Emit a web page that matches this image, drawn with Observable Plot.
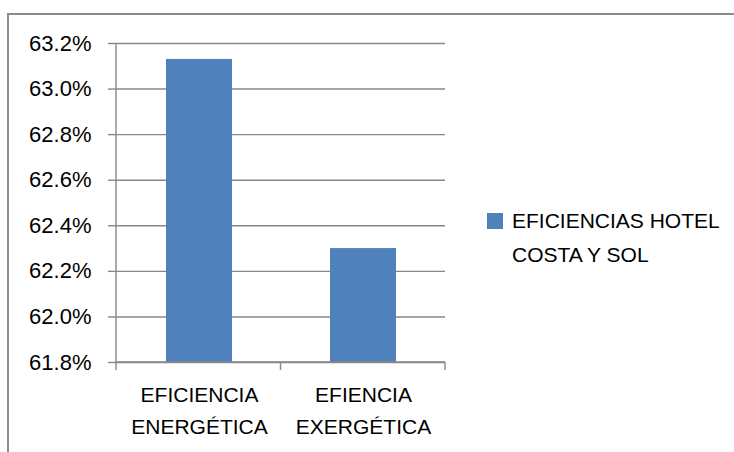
<!DOCTYPE html>
<html><head><meta charset="utf-8">
<script src="https://cdn.jsdelivr.net/npm/d3@7"></script>
<script src="https://cdn.jsdelivr.net/npm/@observablehq/plot@0.6"></script>
<style>
body{margin:0;background:#fff;font-family:"Liberation Sans",Arial,sans-serif;}
#wrap{position:relative;width:734px;height:452px;overflow:hidden;}
#border{position:absolute;left:7px;top:13px;width:760px;height:480px;border-left:2px solid #8c8c8c;border-top:2px solid #8c8c8c;}
#chart{position:absolute;left:0;top:0;}
#swatch{position:absolute;left:487px;top:213px;width:16px;height:16px;background:#4F81BD;}
#legend{position:absolute;left:512px;top:204px;font-size:21px;line-height:34px;color:#000;white-space:nowrap;}
</style>
</head><body>
<div id="wrap"><div id="border"></div><div id="chart"></div><div id="swatch"></div><div id="legend"></div></div>
<script>
const categories = ["EFICIENCIA\nENERGÉTICA", "EFIENCIA\nEXERGÉTICA"];
const values = [0.6313, 0.6230];
const yTicks = [0.618, 0.620, 0.622, 0.624, 0.626, 0.628, 0.630, 0.632];
const yDomain = [0.618, 0.632];
const seriesName = ["EFICIENCIAS HOTEL", "COSTA Y SOL"];

const BLUE = "#4F81BD", GRID = "#878787";
const data = categories.map((c, i) => ({cat: c, value: values[i]}));

function axisLines(index, scales, vals, dims) {
  const g = d3.create("svg:g").attr("stroke", GRID).attr("stroke-width", 1.4).attr("fill", "none");
  const y0 = scales.y(yDomain[0]), y1 = scales.y(yDomain[1]);
  const L = dims.marginLeft, R = dims.width - dims.marginRight;
  g.append("line").attr("x1", L).attr("x2", L).attr("y1", y1).attr("y2", y0);
  g.append("line").attr("x1", L).attr("x2", R).attr("y1", y0).attr("y2", y0);
  const n = categories.length;
  for (let k = 0; k <= n; k++) {
    const xx = L + (R - L) * k / n;
    g.append("line").attr("x1", xx).attr("x2", xx).attr("y1", y0).attr("y2", y0 + 8);
  }
  return g.node();
}

const chart = Plot.plot({
  width: 734, height: 452,
  marginLeft: 116, marginRight: 289, marginTop: 43, marginBottom: 90,
  style: {fontFamily: '"Liberation Sans", Arial, sans-serif', color: "#000", background: "transparent"},
  x: {domain: categories, paddingInner: 0.6, paddingOuter: 0.3},
  y: {domain: yDomain},
  marks: [
    Plot.gridY(yTicks, {stroke: GRID, strokeOpacity: 1, strokeWidth: 1.4}),
    Plot.barY(data, {x: "cat", y1: yDomain[0], y2: "value", fill: BLUE}),
    axisLines,
    Plot.axisY(yTicks, {tickSize: 8, tickPadding: 17, tickFormat: d3.format(".1%"), fontSize: 22, stroke: GRID, strokeWidth: 1.4, strokeOpacity: 1, label: null}),
    Plot.axisX({tickSize: 0, tickPadding: 17, fontSize: 21, lineHeight: 1.52, label: null})
  ]
});
document.getElementById("chart").appendChild(chart);
document.getElementById("legend").innerHTML = seriesName.join("<br>");
</script>
</body></html>
